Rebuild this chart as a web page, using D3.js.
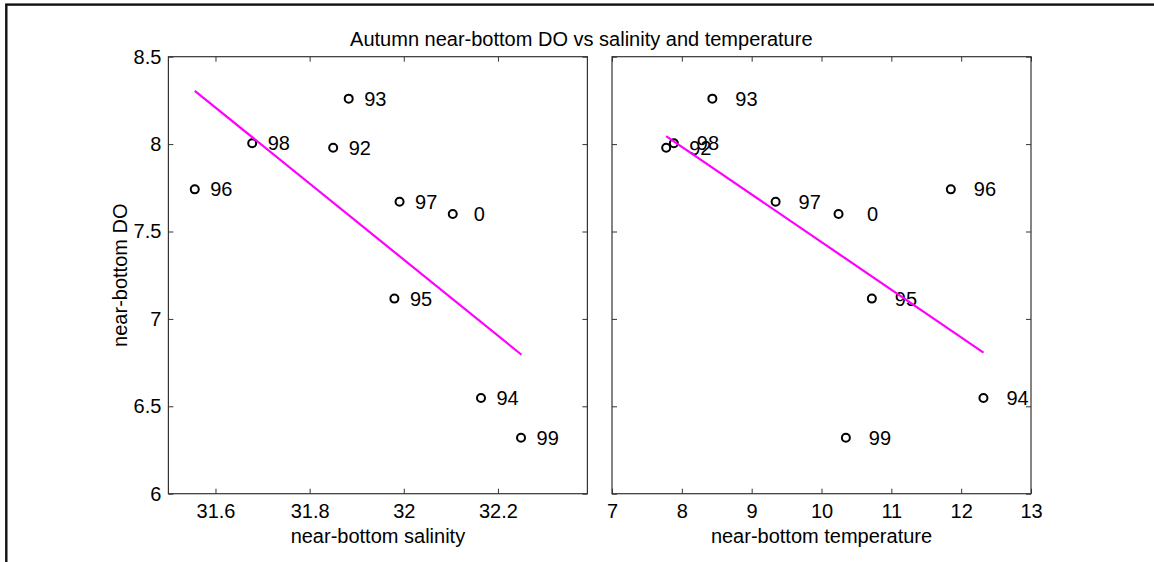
<!DOCTYPE html>
<html>
<head>
<meta charset="utf-8">
<script src="https://cdn.jsdelivr.net/npm/d3@7"></script>
<style>
  html, body { margin: 0; padding: 0; background: #fff; }
  svg { display: block; font-family: "Liberation Sans", Arial, sans-serif; }
  text { white-space: pre; }
</style>
</head>
<body>
<svg id="chart" width="1154" height="562"></svg>
<script>
// ---- data ----
const years = ["92", "93", "94", "95", "96", "97", "98", "99", "0"];
const salinity = [31.850, 31.883, 32.164, 31.980, 31.556, 31.991, 31.678, 32.249, 32.104];
const temperature = [7.776, 8.437, 12.319, 10.721, 11.852, 9.343, 7.886, 10.349, 10.244];
const bottomDO = [7.979, 8.26, 6.547, 7.116, 7.741, 7.67, 8.005, 6.32, 7.60];

// fitted regression line end points
const fitSalinityX = [31.556, 32.25];
const fitSalinityY = [8.305, 6.795];
const fitTempX = [7.775, 12.32];
const fitTempY = [8.046, 6.807];

const salinityTicks = [31.6, 31.8, 32, 32.2];
const temperatureTicks = [7, 8, 9, 10, 11, 12, 13];
const doTicks = [6, 6.5, 7, 7.5, 8, 8.5];

const titleText = "Autumn near-bottom DO vs salinity and temperature";
const yLabel = "near-bottom DO";
const xLabelLeft = "near-bottom salinity";
const xLabelRight = "near-bottom temperature";

// ---- drawing ----
const svg = d3.select("#chart");
const FONT = 20;
const AXIS_COLOR = "#333";

// outer figure frame (runs off right/bottom)
svg.append("rect")
  .attr("x", 6.3).attr("y", 4.6)
  .attr("width", 1200).attr("height", 700)
  .attr("fill", "none").attr("stroke", "#111").attr("stroke-width", 2.4);

const plotTop = 56.7, plotBottom = 493.7;
const y = d3.scaleLinear().domain([6, 8.5]).range([plotBottom, plotTop]);

function panel(opts) {
  const x = d3.scaleLinear().domain(opts.domain).range([opts.left, opts.right]);
  const g = svg.append("g");

  const ax = [
    { axis: d3.axisBottom(x).tickValues(opts.xticks).tickSize(-5).tickPadding(10)
        .tickFormat(d => String(d)), tr: `translate(0,${plotBottom})` },
    { axis: d3.axisTop(x).tickValues(opts.xticks).tickSize(-5).tickFormat(""), tr: `translate(0,${plotTop})` },
    { axis: d3.axisLeft(y).tickValues(doTicks).tickSize(-5).tickPadding(7)
        .tickFormat(opts.ylabels ? (d => String(d)) : ""), tr: `translate(${opts.left},0)` },
    { axis: d3.axisRight(y).tickValues(doTicks).tickSize(-5).tickFormat(""), tr: `translate(${opts.right},0)` }
  ];
  ax.forEach(a => {
    const ag = g.append("g").attr("transform", a.tr).call(a.axis);
    ag.select(".domain").remove();
    ag.selectAll(".tick line").attr("stroke", AXIS_COLOR);
    ag.selectAll(".tick text").attr("fill", "#000")
      .style("font-size", FONT + "px")
      .style("font-family", '"Liberation Sans", Arial, sans-serif');
  });

  g.append("rect")
    .attr("x", opts.left).attr("y", plotTop)
    .attr("width", opts.right - opts.left).attr("height", plotBottom - plotTop)
    .attr("fill", "none").attr("stroke", AXIS_COLOR).attr("stroke-width", 1.2);

  g.selectAll("circle.pt").data(opts.xs).enter().append("circle")
    .attr("class", "pt")
    .attr("cx", d => x(d)).attr("cy", (d, i) => y(bottomDO[i]))
    .attr("r", 4)
    .attr("fill", "none").attr("stroke", "#000").attr("stroke-width", 2);

  g.selectAll("text.lab").data(opts.xs).enter().append("text")
    .attr("class", "lab")
    .attr("x", d => x(d) + opts.labelDx).attr("y", (d, i) => y(bottomDO[i]))
    .attr("dy", "0.35em")
    .style("font-size", FONT + "px")
    .text((d, i) => years[i].padStart(2, " "));

  g.append("line")
    .attr("x1", x(opts.fitX[0])).attr("y1", y(opts.fitY[0]))
    .attr("x2", x(opts.fitX[1])).attr("y2", y(opts.fitY[1]))
    .attr("stroke", "#ff00ff").attr("stroke-width", 2.2);

  g.append("text")
    .attr("x", (opts.left + opts.right) / 2).attr("y", 543)
    .attr("text-anchor", "middle")
    .style("font-size", FONT + "px")
    .text(opts.xlabel);
}

panel({ left: 168.4, right: 587.4, domain: [31.5, 32.39], xticks: salinityTicks,
        xs: salinity, fitX: fitSalinityX, fitY: fitSalinityY, labelDx: 15.5,
        ylabels: true, xlabel: xLabelLeft });
panel({ left: 612, right: 1031, domain: [7, 13], xticks: temperatureTicks,
        xs: temperature, fitX: fitTempX, fitY: fitTempY, labelDx: 23,
        ylabels: false, xlabel: xLabelRight });

svg.append("text")
  .attr("transform", `translate(127,${(plotTop + plotBottom) / 2}) rotate(-90)`)
  .attr("text-anchor", "middle")
  .style("font-size", FONT + "px")
  .text(yLabel);

svg.append("text")
  .attr("x", 581.3).attr("y", 46)
  .attr("text-anchor", "middle")
  .style("font-size", FONT + "px")
  .text(titleText);
</script>
</body>
</html>
